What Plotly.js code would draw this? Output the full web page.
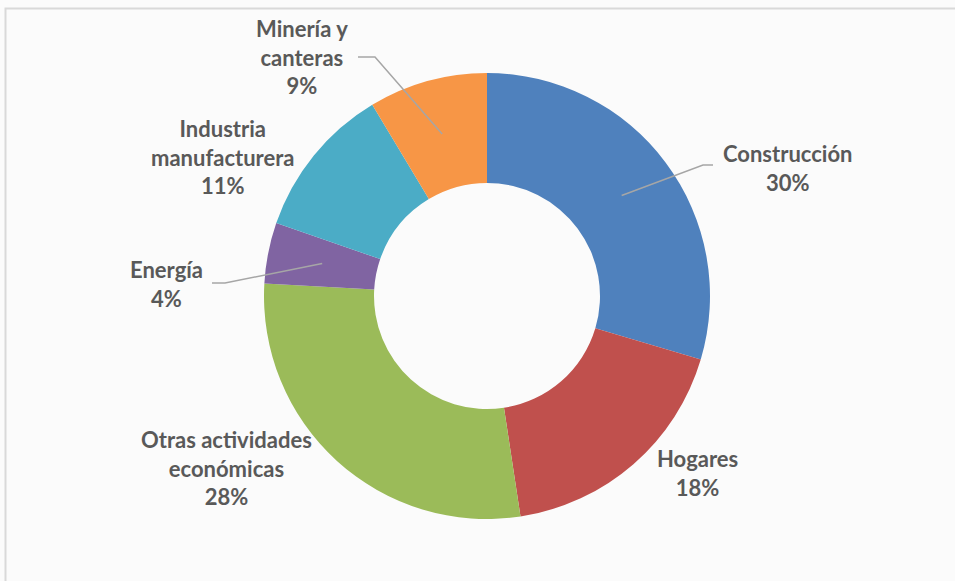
<!DOCTYPE html>
<html>
<head>
<meta charset="utf-8">
<script src="https://cdn.plot.ly/plotly-3.0.1.min.js"></script>
<style>html,body{margin:0;padding:0;background:#fff;}#chart{width:955px;height:581px;}</style>
</head>
<body>
<div id="chart"></div>
<script>
// ---- data ----
const categories = ["Construcción", "Hogares", "Otras actividades económicas", "Energía", "Industria manufacturera", "Minería y canteras"];
const values = [29.6, 18.0, 28.3, 4.4, 11.1, 8.6];
const percentLabels = ["30%", "18%", "28%", "4%", "11%", "9%"];
const labelLines = [["Construcción"], ["Hogares"], ["Otras actividades", "económicas"], ["Energía"], ["Industria", "manufacturera"], ["Minería y", "canteras"]];
const colors = ["#4F81BD", "#C0504D", "#9BBB59", "#8064A2", "#4BACC6", "#F79646"];

// ---- layout settings (pixels) ----
const W = 955, H = 581;
const cx = 487, cy = 296, R = 223, holeR = 113;
const labelPos = [[787, 168], [697, 473], [226, 468], [166, 284], [222, 157], [302, 57]];
const hasLeader = [true, false, false, true, false, true];
const leaderElbow = [[703, 165], null, null, [225, 283], null, [375, 57]];
const leaderStart = [[713, 165], null, null, [212, 283], null, [358, 57]];

const px = x => x / W;
const py = y => 1 - y / H;

const total = values.reduce((a, b) => a + b, 0);
const rMid = (R + holeR) / 2;
let cum = 0;
const shapes = [];
const annotations = [];
values.forEach((v, i) => {
  const mid = (cum + v / 2) / total * 2 * Math.PI;
  cum += v;
  const ax = cx + rMid * Math.sin(mid);
  const ay = cy - rMid * Math.cos(mid);
  if (hasLeader[i]) {
    const s = leaderStart[i], e = leaderElbow[i];
    shapes.push({
      type: 'path', xref: 'paper', yref: 'paper',
      path: `M ${px(s[0])} ${py(s[1])} L ${px(e[0])} ${py(e[1])} L ${px(ax)} ${py(ay)}`,
      line: {color: '#a6a6a6', width: 1.5}
    });
  }
  annotations.push({
    xref: 'paper', yref: 'paper',
    x: px(labelPos[i][0]), y: py(labelPos[i][1]),
    xanchor: 'center', yanchor: 'middle', align: 'center',
    showarrow: false,
    text: labelLines[i].concat([percentLabels[i]]).join('<br>'),
    font: {family: 'Lato, "Open Sans", sans-serif', size: 22, color: '#595959', weight: 700}
  });
});

// frame
shapes.unshift({
  type: 'rect', xref: 'paper', yref: 'paper', layer: 'below',
  x0: px(5.5), x1: px(970), y0: py(600), y1: py(8.5),
  line: {color: '#d9d9d9', width: 2}, fillcolor: 'rgba(0,0,0,0)'
});

const trace = {
  type: 'pie',
  labels: categories,
  values: values,
  sort: false,
  direction: 'clockwise',
  rotation: 0,
  hole: holeR / R,
  textinfo: 'none',
  hoverinfo: 'none',
  marker: {colors: colors, line: {width: 0}},
  domain: {x: [px(cx - R), px(cx + R)], y: [py(cy + R), py(cy - R)]},
  showlegend: false
};

Plotly.newPlot('chart', [trace], {
  width: W, height: H,
  margin: {l: 0, r: 0, t: 0, b: 0},
  paper_bgcolor: '#fbfbfb',
  plot_bgcolor: '#fbfbfb',
  shapes: shapes,
  annotations: annotations,
  showlegend: false
}, {displayModeBar: false, staticPlot: true});
</script>
</body>
</html>
